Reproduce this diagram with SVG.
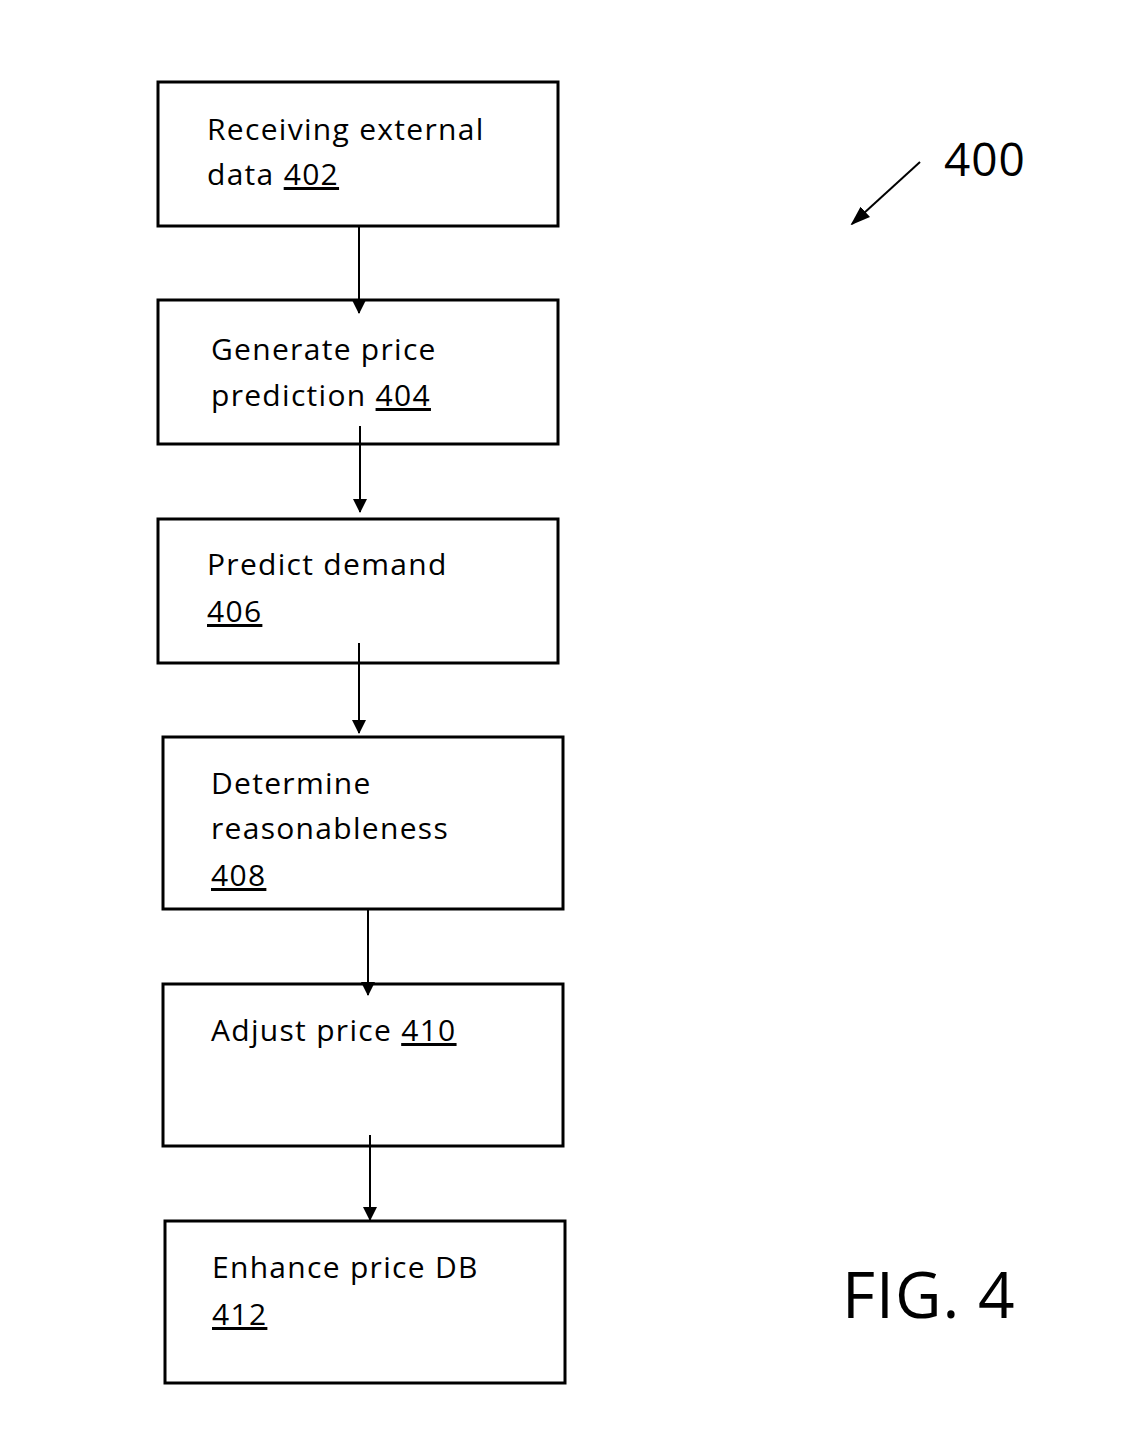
<svg xmlns="http://www.w3.org/2000/svg" width="1122" height="1429" viewBox="0 0 1122 1429">
<defs>
<style>
.box{fill:#fff;stroke:#000;stroke-width:3}
.t{font-family:"Open Sans","Liberation Sans",sans-serif;font-size:30px;letter-spacing:1.3px;fill:#000}
.c{stroke:#000;stroke-width:2;fill:none;marker-end:url(#ah)}
</style>
<marker id="ah" markerWidth="14" markerHeight="14" refX="13" refY="7" orient="auto" markerUnits="userSpaceOnUse" viewBox="0 0 14 14"><path d="M0,0 L14,7 L0,14 z" fill="#000"/></marker>
<marker id="ah2" markerWidth="20" markerHeight="14" refX="18" refY="7" orient="auto" markerUnits="userSpaceOnUse" viewBox="0 0 20 14"><path d="M0,0 L20,7 L0,14 z" fill="#000"/></marker>
</defs>
<rect width="1122" height="1429" fill="#fff"/>
<g id="n402"><rect class="box" x="158" y="82" width="400" height="144"/><text class="t" x="207" y="140">Receiving external</text><text class="t" x="207" y="185">data <tspan text-decoration="underline">402</tspan></text></g>
<g id="n404"><rect class="box" x="158" y="300" width="400" height="144"/><text class="t" x="211" y="360">Generate price</text><text class="t" x="211" y="406">prediction <tspan text-decoration="underline">404</tspan></text></g>
<g id="n406"><rect class="box" x="158" y="519" width="400" height="144"/><text class="t" x="207" y="575">Predict demand</text><text class="t" x="207" y="622" text-decoration="underline">406</text></g>
<g id="n408"><rect class="box" x="163" y="737" width="400" height="172"/><text class="t" x="211" y="794">Determine</text><text class="t" x="211" y="839">reasonableness</text><text class="t" x="211" y="886" text-decoration="underline">408</text></g>
<g id="n410"><rect class="box" x="163" y="984" width="400" height="162"/><text class="t" x="211" y="1041">Adjust price <tspan text-decoration="underline">410</tspan></text></g>
<g id="n412"><rect class="box" x="165" y="1221" width="400" height="162"/><text class="t" x="212" y="1278">Enhance price DB</text><text class="t" x="212" y="1325" text-decoration="underline">412</text></g>
<g id="connectors">
<line class="c" x1="359" y1="226" x2="359" y2="313"/>
<line class="c" x1="360" y1="426" x2="360" y2="512"/>
<line class="c" x1="359" y1="643" x2="359" y2="733"/>
<line class="c" x1="368" y1="909" x2="368" y2="995"/>
<line class="c" x1="370" y1="1135" x2="370" y2="1220"/>
<line x1="920" y1="162" x2="852" y2="224" stroke="#000" stroke-width="2" marker-end="url(#ah2)"/>
</g>
<text x="944" y="176" font-family="Open Sans,Liberation Sans,sans-serif" font-size="46" letter-spacing="1">400</text>
<text x="842" y="1318" font-family="Open Sans,Liberation Sans,sans-serif" font-size="64" letter-spacing="1">FIG. 4</text>
</svg>
